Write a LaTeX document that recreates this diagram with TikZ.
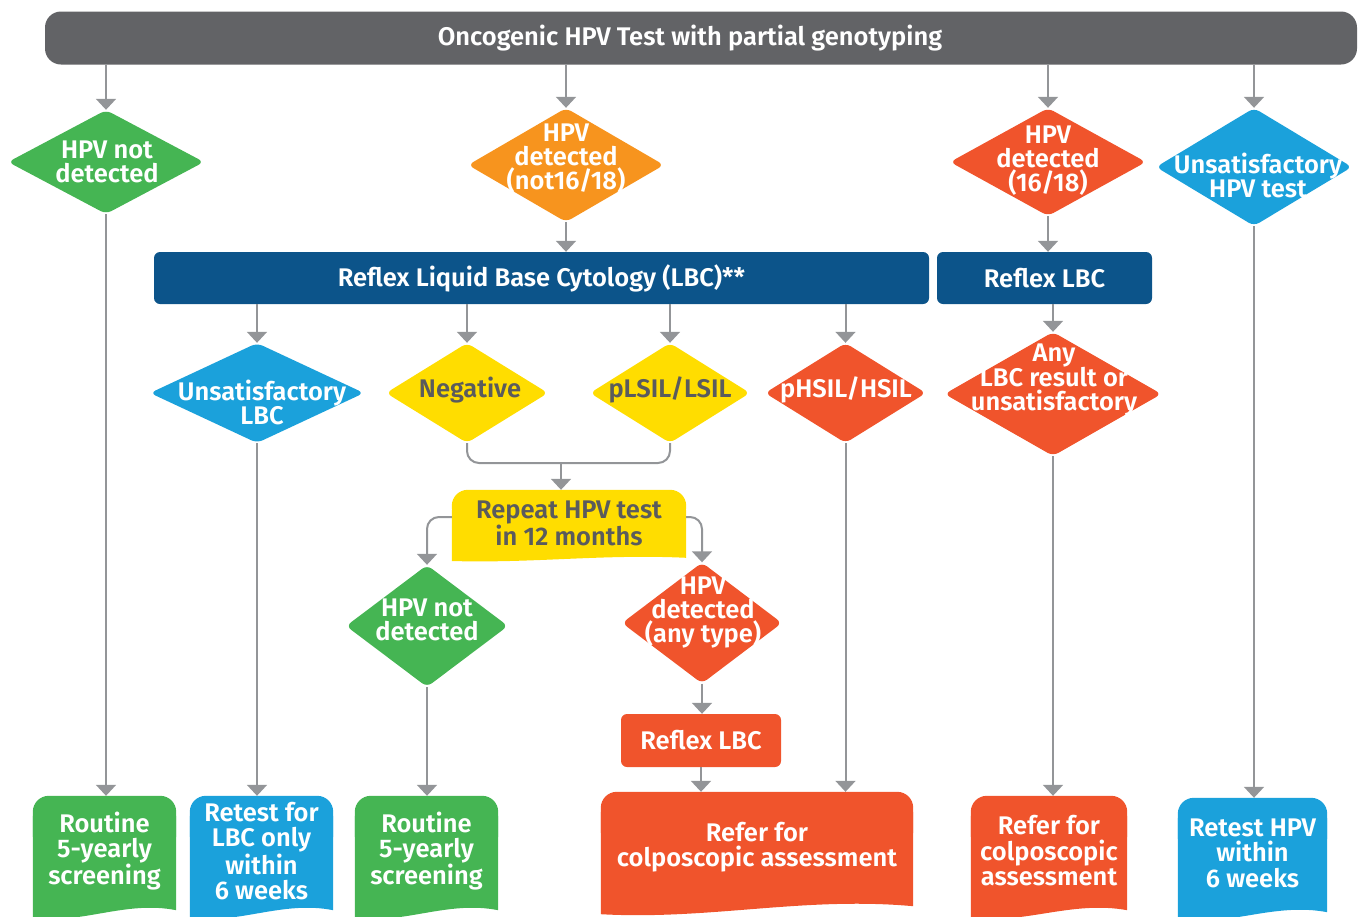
\documentclass[tikz,border=0pt]{standalone}
\usepackage{fontspec}
\setmainfont{Fira Sans}[BoldFont={* SemiBold}]
\usetikzlibrary{shapes.geometric,arrows.meta,calc,backgrounds}

\definecolor{barGray}{HTML}{626366}
\definecolor{lineGray}{HTML}{939598}
\definecolor{hpvGreen}{HTML}{45B553}
\definecolor{hpvOrange}{HTML}{F7941E}
\definecolor{hpvRed}{HTML}{F0542C}
\definecolor{hpvBlue}{HTML}{1BA1DB}
\definecolor{hpvNavy}{HTML}{0C548A}
\definecolor{hpvYellow}{HTML}{FFDD00}
\definecolor{darkText}{HTML}{5A5B5D}

\tikzset{
  line/.style={draw=lineGray, line width=2pt},
  arr/.style={line, -{Triangle[width=20pt,length=11pt]}},
  dia/.style={diamond, inner sep=0pt, rounded corners=6pt, draw=none},
  bar/.style={rectangle, rounded corners=6pt, inner sep=0pt, text=white},
  doc/.style={rectangle, inner sep=0pt, text=white, align=center},
  lbl/.style={text=white, align=center, inner sep=0pt},
}

% document shape behind a node: rounded top, wavy bottom
\newcommand{\docback}[3][1]{%
  \fill[#3, rounded corners=16pt] (#2.north west) rectangle (#2.east);
  \fill[#3] ($(#2.north west)+(0,20)$) -- ($(#2.north east)+(0,20)$) -- ($(#2.south east)+(0,4*#1)$)
    .. controls ($(#2.south east)!0.35!(#2.south west)+(0,-6*#1)$)
    and ($(#2.south east)!0.65!(#2.south west)+(0,18*#1)$)
    .. ($(#2.south west)+(0,12*#1)$) -- cycle;}

\begin{document}
\begin{tikzpicture}[x=1pt, y=-1pt, font=\bfseries\fontsize{25.5}{24}\selectfont]
\useasboundingbox (0,0) rectangle (1360,916);

% top test
\node[bar, rounded corners=16pt, fill=barGray, minimum width=1312pt, minimum height=53pt] (test) at (701,38) {\hspace*{-22pt}Oncogenic HPV Test with partial genotyping};

% first results
\node[dia, fill=hpvGreen, minimum width=196pt, minimum height=104pt] (d1) at (106,162) {};
\node[dia, fill=hpvOrange, minimum width=196pt, minimum height=114pt] (d2) at (566,165) {};
\node[dia, fill=hpvRed, minimum width=196pt, minimum height=108pt] (d3) at (1048,162) {};
\node[dia, fill=hpvBlue, minimum width=196pt, minimum height=118pt] (d4) at (1254,167) {};
\node[lbl] (d1t) at (107,162) {HPV not\\detected};
\node[lbl] (d2t) at (566,159) {HPV\\detected\\(not16/18)};
\node[lbl] (d3t) at (1048,161) {HPV\\detected\\(16/18)};
\node[lbl] (d4t) at (1258,175) {Unsatisfactory\\HPV test};

% cytology bars
\node[bar, fill=hpvNavy, minimum width=775pt, minimum height=52pt] (lbc) at (541.5,278) {Reflex Liquid Base Cytology (LBC)**};
\node[bar, fill=hpvNavy, minimum width=215pt, minimum height=52pt] (rlbc) at (1044.5,278) {Reflex LBC};

% cytology results
\node[dia, fill=hpvBlue, minimum width=214pt, minimum height=100pt] (ulbc) at (257,393) {};
\node[dia, fill=hpvYellow, minimum width=162pt, minimum height=100pt] (neg) at (467,393) {};
\node[dia, fill=hpvYellow, minimum width=160pt, minimum height=100pt] (plsil) at (670,393) {};
\node[dia, fill=hpvRed, minimum width=161pt, minimum height=100pt] (phsil) at (845.5,393) {};
\node[dia, fill=hpvRed, minimum width=217pt, minimum height=124pt] (anylbc) at (1053,394) {};
\node[lbl] (ulbct) at (262,402) {Unsatisfactory\\LBC};
\node[lbl, text=darkText] (negt) at (470,390) {Negative};
\node[lbl, text=darkText] (plsilt) at (670,390) {pLSIL/LSIL};
\node[lbl] (phsilt) at (846,390) {pHSIL/HSIL};
\node[lbl] (anylbct) at (1054,380) {Any\\LBC result or\\unsatisfactory};

% repeat test
\node[doc, text=darkText, minimum width=234pt, minimum height=66pt] (rep) at (569,523) {Repeat HPV test\\in 12 months};
\coordinate (join) at (561,463);

\node[dia, fill=hpvGreen, minimum width=162pt, minimum height=122pt] (hnd2) at (427,626) {};
\node[dia, fill=hpvRed, minimum width=160pt, minimum height=121pt] (hdet) at (702,623) {};
\node[lbl] (hnd2t) at (427,620) {HPV not\\detected};
\node[lbl] (hdett) at (703,612) {HPV\\detected\\(any type)};

\node[bar, fill=hpvRed, minimum width=160pt, minimum height=53pt] (rlbc2) at (701,740.5) {Reflex LBC};

% outcomes
\begin{scope}[font=\bfseries\fontsize{25.5}{25.5}\selectfont]
\node[doc, minimum width=143pt, minimum height=110pt] (rout1) at (104.5,851) {Routine\\5-yearly\\screening};
\node[doc, minimum width=143pt, minimum height=110pt] (retl) at (261.5,851) {Retest for\\LBC only\\within\\6 weeks};
\node[doc, minimum width=143pt, minimum height=110pt] (rout2) at (426.5,851) {Routine\\5-yearly\\screening};
\node[doc, minimum width=312pt, minimum height=110pt] (refer1) at (757,847) {Refer for\\colposcopic assessment};
\node[doc, minimum width=156pt, minimum height=110pt] (refer2) at (1049,851) {Refer for\\colposcopic\\assessment};
\node[doc, minimum width=149pt, minimum height=110pt] (reth) at (1252.5,853) {Retest HPV\\within\\6 weeks};
\end{scope}

\begin{scope}[on background layer]
\docback[0.4]{rep}{hpvYellow}
\docback{rout1}{hpvGreen}
\docback{retl}{hpvBlue}
\docback{rout2}{hpvGreen}
\docback{refer1}{hpvRed}
\docback{refer2}{hpvRed}
\docback{reth}{hpvBlue}
\end{scope}

% connectors
\draw[arr] (test.south -| d1.north) -- (d1.north);
\draw[arr] (test.south -| d2.north) -- (d2.north);
\draw[arr] (test.south -| d3.north) -- (d3.north);
\draw[arr] (test.south -| d4.north) -- (d4.north);
\draw[arr] (d2.south) -- (d2.south |- lbc.north);
\draw[arr] (d3.south) -- (d3.south |- rlbc.north);
\draw[arr] (lbc.south -| ulbc.north) -- (ulbc.north);
\draw[arr] (lbc.south -| neg.north) -- (neg.north);
\draw[arr] (lbc.south -| plsil.north) -- (plsil.north);
\draw[arr] (lbc.south -| phsil.north) -- (phsil.north);
\draw[arr] (rlbc.south -| anylbc.north) -- (anylbc.north);
\draw[line, rounded corners=12pt] (neg.south) |- (join) -| (plsil.south);
\draw[arr] (join) -- (join |- rep.north);
\draw[arr, rounded corners=12pt] ([yshift=6pt]rep.west) -| (hnd2.north);
\draw[arr, rounded corners=12pt] ([yshift=6pt]rep.east) -| (hdet.north);
\draw[arr] (hdet.south) -- (hdet.south |- rlbc2.north);
\draw[arr] (rlbc2.south) -- (rlbc2.south |- refer1.north);
\draw[arr] (d1.south) -- (d1.south |- rout1.north);
\draw[arr] (ulbc.south) -- (ulbc.south |- retl.north);
\draw[arr] (hnd2.south) -- (hnd2.south |- rout2.north);
\draw[arr] (phsil.south) -- (phsil.south |- refer1.north);
\draw[arr] (anylbc.south) -- (anylbc.south |- refer2.north);
\draw[arr] (d4.south) -- (d4.south |- reth.north);
\end{tikzpicture}
\end{document}
